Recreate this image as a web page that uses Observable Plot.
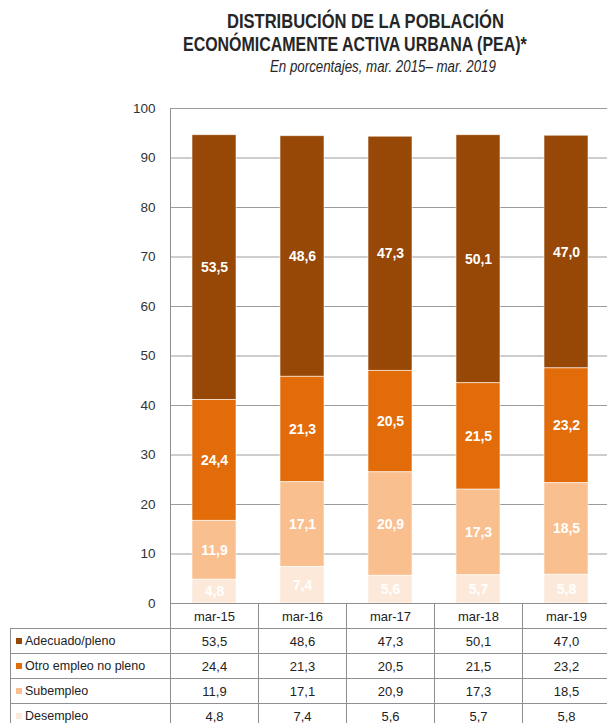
<!DOCTYPE html>
<html><head><meta charset="utf-8">
<script src="https://cdn.jsdelivr.net/npm/d3@7"></script>
<script src="https://cdn.jsdelivr.net/npm/@observablehq/plot@0.6"></script>
<style>
body{margin:0;background:#fff;}
#fig{position:relative;width:607px;height:723px;overflow:hidden;background:#fff;font-family:"Liberation Sans",Arial,sans-serif;color:#222;}
.t{position:absolute;white-space:nowrap;line-height:1;transform-origin:0 0;}
.cell{position:absolute;box-sizing:border-box;border:1px solid #8f8f8f;display:flex;align-items:center;justify-content:center;font-size:13px;color:#222;white-space:nowrap;}
.lab{justify-content:flex-start;padding-left:5px;font-size:12.5px;}
.sw{display:inline-block;width:6px;height:6px;margin-right:3px;}
</style></head><body><div id="fig"></div>
<script>
const periods = ["mar-15","mar-16","mar-17","mar-18","mar-19"];
const series = ["Adecuado/pleno","Otro empleo no pleno","Subempleo","Desempleo"];
const adecuado = [53.5,48.6,47.3,50.1,47.0];
const otro = [24.4,21.3,20.5,21.5,23.2];
const subempleo = [11.9,17.1,20.9,17.3,18.5];
const desempleo = [4.8,7.4,5.6,5.7,5.8];
const colors = ["#974706","#e36c0a","#fabf8f","#fde9d9"];
const yTicks = [0,10,20,30,40,50,60,70,80,90,100];
const titleLines = ["DISTRIBUCIÓN DE LA POBLACIÓN","ECONÓMICAMENTE ACTIVA URBANA (PEA)*"];
const subtitle = "En porcentajes,  mar. 2015– mar. 2019";

const values = [adecuado, otro, subempleo, desempleo];
const rows = periods.flatMap((p,i)=>series.map((s,j)=>({period:p, serie:s, value:values[j][i]})));
const fmt = v => v.toFixed(1).replace(".", ",");
const order = series.slice().reverse();

const fig = document.getElementById("fig");

function addText(txt, cx, targetW, top, css){
  const d = document.createElement("div");
  d.className = "t"; d.textContent = txt;
  d.style.cssText += css;
  d.style.top = top + "px";
  fig.appendChild(d);
  const w = d.offsetWidth;
  d.style.transform = `scaleX(${targetW / w})`;
  d.style.left = (cx - targetW/2) + "px";
  return d;
}
addText(titleLines[0], 365, 277, 11, "font-weight:bold;font-size:20px;color:#262626;");
addText(titleLines[1], 355, 344, 34, "font-weight:bold;font-size:20px;color:#262626;");
addText(subtitle, 383, 226, 59, "font-style:italic;font-size:16px;color:#262626;");

const top0 = 90;
const plot = Plot.plot({
  width: 607,
  height: 514,
  marginTop: 18,
  marginBottom: 1,
  marginLeft: 170,
  marginRight: -3,
  style: {fontFamily: '"Liberation Sans",Arial,sans-serif', fontSize: "13px", overflow: "visible", background: "transparent"},
  x: {domain: periods, paddingInner: 0.5, paddingOuter: 0.25, axis: null},
  y: {domain: [0, 100], axis: null},
  color: {domain: series, range: colors},
  marks: [
    Plot.ruleY(yTicks.filter(d => d > 0), {stroke: "#9c9c9c", strokeWidth: 1}),
    Plot.barY(rows, Plot.stackY({x: "period", y: "value", fill: "serie", order, stroke: "#fff", strokeWidth: 0.8, strokeOpacity: 0.7})),
    Plot.text(rows, Plot.stackY({x: "period", y: "value", z: "serie", order, text: d => fmt(d.value), fill: "white", fontWeight: "bold", fontSize: 14})),
    Plot.axisY({ticks: yTicks, tickSize: 0, tickPadding: 15, label: null, fontSize: 13.5, fill: "#333"}),
    Plot.frame({anchor: "left", stroke: "#8f8f8f"})
  ]
});
plot.style.position = "absolute";
plot.style.left = "0px";
plot.style.top = top0 + "px";
fig.appendChild(plot);

// table below the chart, aligned on the x scale
const xs = plot.scale("x");
const step = xs.step;
const colLeft = p => xs.apply(p) + xs.bandwidth / 2 - step / 2;
const rowH = 25;
const tableTop = top0 + 514 - 1;
function cell(x, y, w, h, html, cls){
  const c = document.createElement("div");
  c.className = "cell" + (cls ? " " + cls : "");
  c.style.left = x + "px"; c.style.top = y + "px";
  c.style.width = (w + 1) + "px"; c.style.height = (h + 1) + "px";
  c.innerHTML = html;
  fig.appendChild(c);
}
periods.forEach(p => cell(colLeft(p), tableTop, step, rowH, p));
series.forEach((s, j) => {
  const y = tableTop + (j + 1) * rowH;
  cell(10, y, 160, rowH, `<span class="sw" style="background:${colors[j]}"></span>${s}`, "lab");
  periods.forEach((p, i) => cell(colLeft(p), y, step, rowH, fmt(values[j][i])));
});
</script></body></html>
